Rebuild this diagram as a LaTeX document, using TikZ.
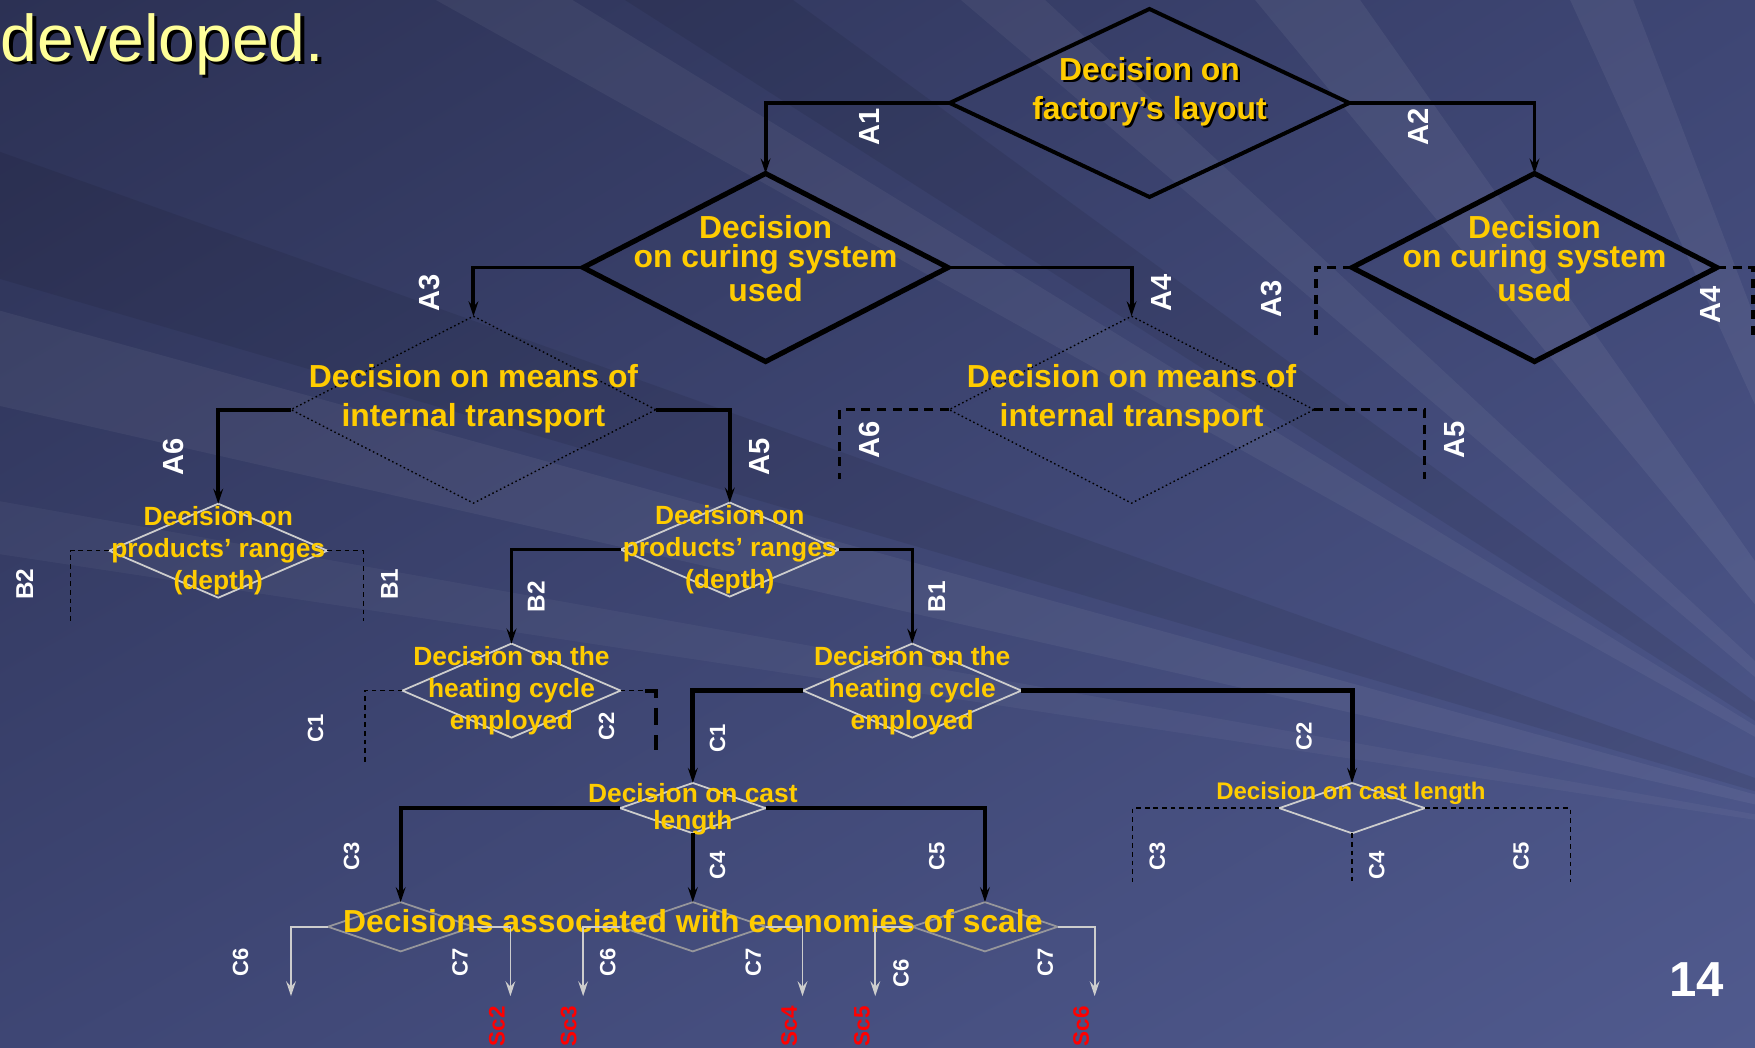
\documentclass[tikz,border=0pt]{standalone}
\usepackage{fontspec}
\setmainfont{Liberation Sans}
\usetikzlibrary{arrows.meta, shapes.geometric, shadings}
\definecolor{slideyellow}{RGB}{255,204,0}
\definecolor{titleyellow}{RGB}{255,255,153}
\definecolor{bgdark}{RGB}{44,49,84}
\definecolor{bgmid}{RGB}{62,70,116}
\definecolor{bglight}{RGB}{80,90,142}
\definecolor{linegray}{RGB}{205,205,205}
\definecolor{econgray}{RGB}{150,150,155}
\definecolor{scred}{RGB}{255,0,0}

\begin{document}
\begin{tikzpicture}[
    x=0.1mm, y=-0.1mm,
    dia/.style={diamond, inner sep=0pt, outer sep=0pt},
    thickdia/.style={dia, draw=black, line width=1.3pt},
    dotdia/.style={dia, draw=black, line width=0.35pt, dash pattern=on 0.4pt off 0.7pt},
    graydia/.style={dia, draw=linegray, line width=0.45pt},
    econdia/.style={dia, draw=econgray, line width=0.45pt},
    bigtxt/.style={text=slideyellow, align=center, inner sep=0pt,
        font=\bfseries\fontsize{8.1}{9.9}\selectfont},
    curtxt/.style={bigtxt, font=\bfseries\fontsize{8.1}{7.5}\selectfont},
    midtxt/.style={bigtxt, font=\bfseries\fontsize{6.7}{8.1}\selectfont},
    lbl/.style={text=white, rotate=90, inner sep=0pt,
        font=\bfseries\fontsize{7.4}{8}\selectfont},
    blbl/.style={lbl, font=\bfseries\fontsize{6.2}{7}\selectfont},
    clbl/.style={lbl, font=\bfseries\fontsize{5.6}{6}\selectfont},
    sclbl/.style={lbl, text=scred, font=\bfseries\fontsize{5.7}{6}\selectfont},
    arr/.style={-{Stealth[length=3.8pt, width=2.5pt, inset=1.4pt]}, line width=1pt, black},
    arrmid/.style={arr, line width=0.75pt},
    arrheavy/.style={arr, line width=1.25pt},
    grayarr/.style={-{Stealth[length=3.8pt, width=2.5pt, inset=1.4pt]}, line width=0.45pt, linegray},
    dashthick/.style={line width=0.9pt, dash pattern=on 2.3pt off 1.7pt},
    dashthin/.style={line width=0.35pt, dash pattern=on 1.2pt off 1pt}
]

% background
\begin{scope}
\clip (0,0) rectangle (1568,936);
\shade[upper left=bgdark, upper right=bgmid, lower left=bgmid, lower right=bglight]
    (0,0) rectangle (1568,936);
\fill[white, opacity=0.05] (1750,760) -- (-100,250) -- (-100,340) -- cycle;
\fill[white, opacity=0.04] (1750,760) -- (-100,430) -- (-100,480) -- cycle;
\fill[white, opacity=0.05] (1750,760) -- (300,-50) -- (430,-50) -- cycle;
\fill[white, opacity=0.05] (1750,760) -- (800,-50) -- (880,-50) -- cycle;
\fill[white, opacity=0.06] (1750,760) -- (1080,-50) -- (1180,-50) -- cycle;
\fill[white, opacity=0.06] (1750,760) -- (1380,-50) -- (1440,-50) -- cycle;
\fill[black, opacity=0.08] (1750,760) -- (-100,100) -- (-100,220) -- cycle;
\fill[black, opacity=0.08] (1750,760) -- (480,-50) -- (640,-50) -- cycle;
\fill[black, opacity=0.07] (1750,760) -- (1600,-50) -- (1750,-50) -- cycle;
\end{scope}
\useasboundingbox (0,0) rectangle (1568,936);

% title
\node[anchor=base west, inner sep=0pt, text=black,
    font=\fontsize{16.8}{20}\selectfont] (titleshd) at (3,58) {developed.};
\node[anchor=base west, inner sep=0pt, text=titleyellow,
    font=\fontsize{16.8}{20}\selectfont] (title) at (0,55) {developed.};

% Level A
\node[thickdia, line width=1pt, minimum width=35.7mm, minimum height=16.8mm] (fact) at (1027,92) {};
\node[bigtxt, text=black] (facttxtshd) at (1029,84) {Decision on\\factory’s layout};
\node[bigtxt] (facttxt) at (1027,82) {Decision on\\factory’s layout};

\node[thickdia, minimum width=32.6mm, minimum height=16.8mm] (cur1) at (684,239) {};
\node[curtxt] (cur1txt) at (684,231) {Decision\\on curing system\\used};
\node[thickdia, minimum width=32.6mm, minimum height=16.8mm] (cur2) at (1371,239) {};
\node[curtxt] (cur2txt) at (1371,231) {Decision\\on curing system\\used};

\node[dotdia, minimum width=32.6mm, minimum height=16.7mm] (tr1) at (423,366) {};
\node[bigtxt] (tr1txt) at (423,356) {Decision on means of\\internal transport};
\node[dotdia, minimum width=32.6mm, minimum height=16.7mm] (tr2) at (1011,366) {};
\node[bigtxt] (tr2txt) at (1011,356) {Decision on means of\\internal transport};

\draw[arr] (fact.west) -| (cur1.north);
\draw[arr] (fact.east) -| (cur2.north);
\draw[arr] (cur1.west) -| (tr1.north);
\draw[arr] (cur1.east) -| (tr2.north);
\coordinate (cur2a3) at (1176,300);
\coordinate (cur2a4) at (1566,300);
\draw[dashthick] (cur2.west) -| (cur2a3);
\draw[dashthick] (cur2.east) -| (cur2a4);

\node[lbl] (la1) at (777,113) {A1};
\node[lbl] (la2) at (1267,113) {A2};
\node[lbl] (la3) at (384,262) {A3};
\node[lbl] (la4) at (1038,262) {A4};
\node[lbl] (lb3) at (1136,267) {A3};
\node[lbl] (lb4) at (1528,272) {A4};

% Level B
\node[graydia, minimum width=19.5mm, minimum height=8.4mm] (prod1) at (195,492) {};
\node[midtxt] (prod1txt) at (195,492) {Decision on\\products’ ranges\\(depth)};
\node[graydia, minimum width=19.5mm, minimum height=8.4mm] (prod2) at (652,491) {};
\node[midtxt] (prod2txt) at (652,491) {Decision on\\products’ ranges\\(depth)};

\draw[arr] (tr1.west) -| (prod1.north);
\draw[arr] (tr1.east) -| (prod2.north);
\coordinate (tr2a6) at (750,428);
\coordinate (tr2a5) at (1273,428);
\draw[dashthick, line width=0.8pt] (tr2.west) -| (tr2a6);
\draw[dashthick, line width=0.8pt] (tr2.east) -| (tr2a5);

\node[lbl] (la6) at (155,408) {A6};
\node[lbl] (la5) at (679,408) {A5};
\node[lbl] (lc6) at (777,393) {A6};
\node[lbl] (lc5) at (1300,393) {A5};

% Level C
\node[graydia, minimum width=19.5mm, minimum height=8.4mm] (heat1) at (457,617) {};
\node[midtxt] (heat1txt) at (457,617) {Decision on the\\heating cycle\\employed};
\node[graydia, minimum width=19.5mm, minimum height=8.4mm] (heat2) at (815,617) {};
\node[midtxt] (heat2txt) at (815,617) {Decision on the\\heating cycle\\employed};

\coordinate (prod1b2) at (63,555);
\coordinate (prod1b1) at (325,555);
\draw[dashthin] (prod1.west) -| (prod1b2);
\draw[dashthin] (prod1.east) -| (prod1b1);
\draw[arrmid] (prod2.west) -| (heat1.north);
\draw[arrmid] (prod2.east) -| (heat2.north);

\node[blbl] (lpb2) at (22,522) {B2};
\node[blbl] (lpb1) at (348,522) {B1};
\node[blbl] (lqb2) at (479,533) {B2};
\node[blbl] (lqb1) at (837,533) {B1};

% cast length
\node[graydia, minimum width=13mm, minimum height=4.5mm] (cast1) at (619,722) {};
\node[midtxt, font=\bfseries\fontsize{6.7}{6.8}\selectfont] (cast1txt) at (619,723) {Decision on cast\\length};
\node[graydia, minimum width=13mm, minimum height=4.5mm] (cast2) at (1208,722) {};
\node[midtxt, font=\bfseries\fontsize{6.1}{7}\selectfont] (cast2txt) at (1207,709) {Decision on cast length};

\coordinate (heat1c1) at (326,682);
\coordinate (heat1c2) at (586,670);
\draw[dashthin] (heat1.west) -| (heat1c1);
\draw[dashthin] (heat1.east) -- ++(22,0) coordinate (heat1r);
\draw[line width=1pt, dash pattern=on 4.5pt off 2.5pt] (heat1r) -| (heat1c2);
\draw[arrheavy] (heat2.west) -| (cast1.north);
\draw[arrheavy] (heat2.east) -| (cast2.north);

\node[clbl] (lhc1) at (282,651) {C1};
\node[clbl] (lhc2) at (542,649) {C2};
\node[clbl] (lkc1) at (641,660) {C1};
\node[clbl] (lkc2) at (1165,658) {C2};

% economies of scale
\node[econdia, minimum width=13mm, minimum height=4.4mm] (econ1) at (358,828) {};
\node[econdia, minimum width=13mm, minimum height=4.4mm] (econ2) at (619,828) {};
\node[econdia, minimum width=13mm, minimum height=4.4mm] (econ3) at (880,828) {};
\node[bigtxt] (econtxt) at (619,823) {Decisions associated with economies of scale};

\draw[arr] (cast1.west) -| (econ1.north);
\draw[arr] (cast1.south) -- (econ2.north);
\draw[arr] (cast1.east) -| (econ3.north);
\coordinate (cast2c3) at (1012,788);
\coordinate (cast2c4) at (1208,788);
\coordinate (cast2c5) at (1403,788);
\draw[dashthin] (cast2.west) -| (cast2c3);
\draw[dashthin] (cast2.south) -- (cast2c4);
\draw[dashthin] (cast2.east) -| (cast2c5);

\node[clbl] (lmc3) at (314,765) {C3};
\node[clbl] (lmc4) at (641,773) {C4};
\node[clbl] (lmc5) at (837,765) {C5};
\node[clbl] (lnc3) at (1034,765) {C3};
\node[clbl] (lnc4) at (1230,773) {C4};
\node[clbl] (lnc5) at (1359,765) {C5};

\coordinate (e1l) at (260,890);
\coordinate (e1r) at (456,890);
\coordinate (e2l) at (521,890);
\coordinate (e2r) at (717,890);
\coordinate (e3l) at (782,890);
\coordinate (e3r) at (978,890);
\draw[grayarr] (econ1.west) -| (e1l);
\draw[grayarr] (econ1.east) -| (e1r);
\draw[grayarr] (econ2.west) -| (e2l);
\draw[grayarr] (econ2.east) -| (e2r);
\draw[grayarr] (econ3.west) -| (e3l);
\draw[grayarr] (econ3.east) -| (e3r);

\node[clbl] (le1c6) at (215,860) {C6};
\node[clbl] (le1c7) at (411,860) {C7};
\node[clbl] (le2c6) at (543,860) {C6};
\node[clbl] (le2c7) at (673,860) {C7};
\node[clbl] (le3c6) at (805,870) {C6};
\node[clbl] (le3c7) at (934,860) {C7};

% scenarios
\node[sclbl] (sc2) at (444,917) {Sc2};
\node[sclbl] (sc3) at (508,917) {Sc3};
\node[sclbl] (sc4) at (705,917) {Sc4};
\node[sclbl] (sc5) at (770,917) {Sc5};
\node[sclbl] (sc6) at (966,917) {Sc6};

% slide number
\node[text=white, inner sep=0pt, font=\fontsize{12.5}{14}\selectfont\bfseries] (pagenum) at (1516,875) {14};

\end{tikzpicture}
\end{document}
